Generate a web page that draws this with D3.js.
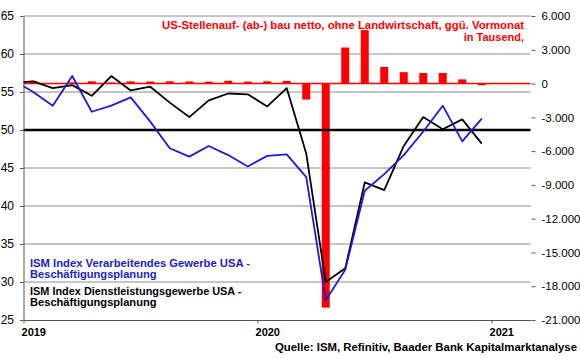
<!DOCTYPE html>
<html>
<head>
<meta charset="utf-8">
<script src="https://cdn.jsdelivr.net/npm/d3@7"></script>
<style>
  html, body { margin: 0; padding: 0; background: #fff; }
  svg { display: block; font-family: "Liberation Sans", Arial, sans-serif; }
</style>
</head>
<body>
<svg id="chart" width="580" height="359"></svg>
<script>
// ---- data (month index 0 = Jan 2019; index -1 = Dec 2018, clipped at left edge) ----
const months = ["2018-12","2019-01","2019-02","2019-03","2019-04","2019-05","2019-06","2019-07","2019-08","2019-09","2019-10","2019-11","2019-12",
                "2020-01","2020-02","2020-03","2020-04","2020-05","2020-06","2020-07","2020-08","2020-09","2020-10","2020-11","2020-12"];
const ismManufacturing = [56.5, 55.0, 53.2, 57.1, 52.4, 53.2, 54.3, 51.1, 47.6, 46.5, 47.9, 46.7, 45.2,
                          46.6, 46.8, 43.8, 27.6, 31.6, 42.0, 44.2, 46.7, 49.8, 53.2, 48.5, 51.5];
const ismServices      = [56.2, 56.4, 55.5, 55.9, 54.5, 57.1, 55.2, 55.7, 53.6, 51.7, 53.9, 54.8, 54.7,
                          53.1, 55.5, 46.9, 30.0, 31.8, 43.1, 42.1, 47.9, 51.7, 50.1, 51.4, 48.2];
// nonfarm payrolls change, thousands (Jan 2019 .. Dec 2020)
const payrollMonths = months.slice(1);
const payrolls = [240, 30, 100, 200, 90, 190, 180, 200, 190, 170, 250, 180,
                  200, 230, -1420, -19900, 3200, 4750, 1480, 1010, 940, 940, 370, -150];
const leftTicks = [25, 30, 35, 40, 45, 50, 55, 60, 65];
const rightTicks = [-21000, -18000, -15000, -12000, -9000, -6000, -3000, 0, 3000, 6000];
const yearTicks = [0, 12, 24];
const yearLabels = ["2019", "2020", "2021"];
const titleLines = ["US-Stellenauf- (ab-) bau netto, ohne Landwirtschaft, ggü. Vormonat", "in Tausend,"];
const legendBlue = ["ISM Index Verarbeitendes Gewerbe USA -", "Beschäftigungsplanung"];
const legendBlack = ["ISM Index Dienstleistungsgewerbe USA -", "Beschäftigungsplanung"];
const sourceText = "Quelle: ISM, Refinitiv, Baader Bank Kapitalmarktanalyse";

// ---- layout ----
const L = 23.5, R = 530.5, T = 16, B = 320;
const svg = d3.select("#chart");
const x = d3.scaleLinear().domain([0, 26]).range([L, R]);
const yL = d3.scaleLinear().domain([25, 65]).range([B, T]);
const yR = d3.scaleLinear().domain([-21000, 6000]).range([B, T]);
const de = d3.formatLocale({decimal: ",", thousands: ".", grouping: [3], currency: ["", "€"], minus: "-"});
const fmt = de.format(",.0f");
const mIdx = (i) => i - 1; // array index -> month index

svg.append("defs").append("clipPath").attr("id", "plotclip")
  .append("rect").attr("x", L).attr("y", 0).attr("width", R - L).attr("height", 359);

// gridlines
svg.append("g").selectAll("line")
  .data(leftTicks.filter(v => v !== 25 && v !== 50))
  .join("line")
  .attr("x1", L).attr("x2", R)
  .attr("y1", d => yL(d)).attr("y2", d => yL(d))
  .attr("stroke", "#8c8c8c").attr("stroke-width", 1);

// bars
const bw = 8;
svg.append("g").selectAll("rect")
  .data(payrolls)
  .join("rect")
  .attr("x", (d, i) => x(i + 0.5) - bw / 2)
  .attr("width", bw)
  .attr("y", d => yR(Math.max(0, d)))
  .attr("height", d => Math.abs(yR(d) - yR(0)))
  .attr("fill", "#ff0000");

// red zero line
svg.append("line").attr("x1", L).attr("x2", R)
  .attr("y1", yR(0)).attr("y2", yR(0))
  .attr("stroke", "#ff0000").attr("stroke-width", 1.5);

// 50 line
svg.append("line").attr("x1", L).attr("x2", R)
  .attr("y1", yL(50)).attr("y2", yL(50))
  .attr("stroke", "#000").attr("stroke-width", 2.5);

// left axis
const gl = svg.append("g").attr("transform", `translate(${L},0)`)
  .call(d3.axisLeft(yL).tickValues(leftTicks).tickSize(3.5).tickSizeOuter(0).tickPadding(6));
gl.select(".domain").attr("stroke", "#555");
gl.selectAll(".tick line").attr("stroke", "#555");
gl.selectAll("text").attr("font-size", 12).attr("fill", "#000")
  .attr("font-family", "Liberation Sans, Arial, sans-serif");

// bottom axis
const gb = svg.append("g").attr("transform", `translate(0,${B})`)
  .call(d3.axisBottom(x).tickValues(yearTicks).tickSize(3.5).tickSizeOuter(0)
    .tickFormat((d, i) => yearLabels[i]));
gb.select(".domain").attr("stroke", "#555");
gb.selectAll(".tick line").attr("stroke", "#555");
gb.selectAll("text").attr("font-size", 11).attr("font-weight", "bold").attr("fill", "#000")
  .attr("font-family", "Liberation Sans, Arial, sans-serif")
  .attr("x", (R - L) / 26 / 2).attr("y", 8);

// right axis
const gr = svg.append("g").attr("transform", `translate(${R + 1},0)`)
  .call(d3.axisRight(yR).tickValues(rightTicks).tickSize(4).tickPadding(6).tickFormat(fmt));
gr.select(".domain").remove();
gr.selectAll(".tick line").attr("stroke", "#555");
gr.selectAll("text").attr("font-size", 11.5).attr("fill", "#000")
  .attr("font-family", "Liberation Sans, Arial, sans-serif");

// ISM lines
const line = (arr) => d3.line()
  .x((d, i) => x(mIdx(i) + 0.5))
  .y(d => yL(d))(arr);
const lg = svg.append("g").attr("clip-path", "url(#plotclip)");
lg.append("path").attr("d", line(ismServices))
  .attr("fill", "none").attr("stroke", "#000").attr("stroke-width", 1.8).attr("stroke-linejoin", "round");
lg.append("path").attr("d", line(ismManufacturing))
  .attr("fill", "none").attr("stroke", "#1c1cd0").attr("stroke-width", 1.8).attr("stroke-linejoin", "round");

// texts
const txt = (s, xx, yy, opts) => {
  const t = svg.append("text").attr("x", xx).attr("y", yy).text(s)
    .attr("font-size", 11).attr("font-weight", "bold")
    .attr("fill", opts.fill || "#000")
    .attr("text-anchor", opts.anchor || "start");
  if (opts.len) t.attr("textLength", opts.len).attr("lengthAdjust", "spacingAndGlyphs");
  return t;
};
txt(titleLines[0], 524, 29, {fill: "#ff0000", anchor: "end", len: 362});
txt(titleLines[1], 524, 41.3, {fill: "#ff0000", anchor: "end"});
txt(legendBlue[0], 30, 266.7, {fill: "#1c1cd0", len: 220});
txt(legendBlue[1], 30, 277.5, {fill: "#1c1cd0", len: 126.5});
txt(legendBlack[0], 30, 294.7, {len: 211.5});
txt(legendBlack[1], 30, 305.7, {len: 126.5});
txt(sourceText, 577, 350.7, {anchor: "end", len: 302});
</script>
</body>
</html>
